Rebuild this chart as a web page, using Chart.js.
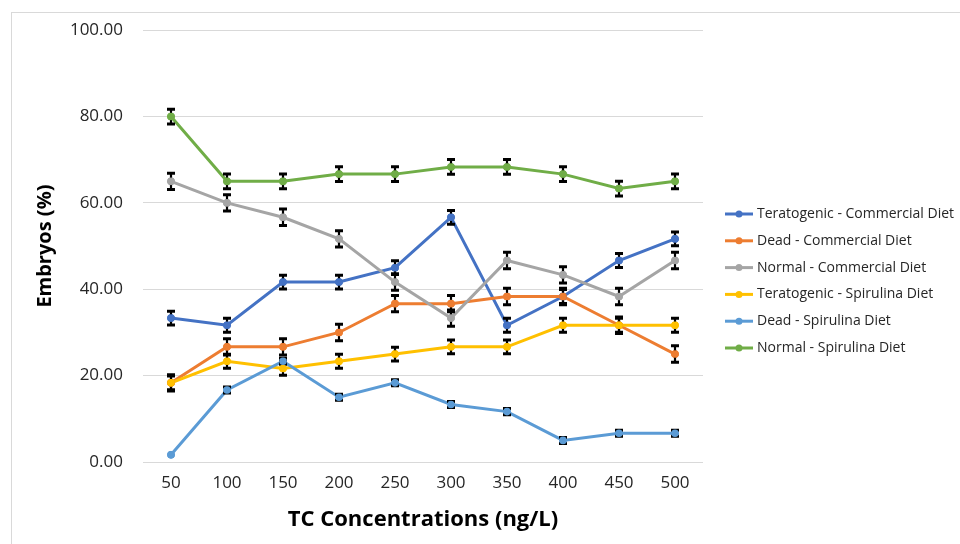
<!DOCTYPE html>
<html><head><meta charset="utf-8">
<script src="https://cdn.jsdelivr.net/npm/chart.js@4"></script>
<style>
html,body{margin:0;padding:0;background:#fff;}
#wrap{position:relative;width:960px;height:544px;overflow:hidden;}
#frame{position:absolute;left:11px;top:12px;width:960px;height:540px;border-left:1px solid #d9d9d9;border-top:1px solid #d9d9d9;pointer-events:none;}
canvas{position:absolute;left:0;top:0;}
</style></head>
<body><div id="wrap"><div id="frame"></div><canvas id="c" width="960" height="544"></canvas></div>
<script>
const categories = ['50','100','150','200','250','300','350','400','450','500'];
const yTicks = [0,20,40,60,80,100];
const seriesNames = ['Teratogenic - Commercial Diet','Dead - Commercial Diet','Normal - Commercial Diet','Teratogenic - Spirulina Diet','Dead - Spirulina Diet','Normal - Spirulina Diet'];
const teratogenicCommercial = [33.33,31.67,41.67,41.67,45.00,56.67,31.67,38.33,46.67,51.67];
const deadCommercial        = [18.33,26.67,26.67,30.00,36.67,36.67,38.33,38.33,31.67,25.00];
const normalCommercial      = [65.00,60.00,56.67,51.67,41.67,33.33,46.67,43.33,38.33,46.67];
const teratogenicSpirulina  = [18.33,23.33,21.67,23.33,25.00,26.67,26.67,31.67,31.67,31.67];
const deadSpirulina         = [1.67,16.67,23.33,15.00,18.33,13.33,11.67,5.00,6.67,6.67];
const normalSpirulina       = [80.00,65.00,65.00,66.67,66.67,68.33,68.33,66.67,63.33,65.00];
const errTeratogenicCommercial = [1.6,1.6,1.6,1.6,1.6,1.6,1.6,1.6,1.6,1.6];
const errDeadCommercial        = [1.9,1.9,1.9,1.9,1.9,1.9,1.9,1.9,1.9,1.9];
const errNormalCommercial      = [1.9,1.9,1.9,1.9,1.9,1.9,1.9,1.9,1.9,1.9];
const errTeratogenicSpirulina  = [1.6,1.6,1.6,1.6,1.6,1.6,1.6,1.6,1.6,1.6];
const errDeadSpirulina         = [0,0.7,0.7,0.7,0.7,0.7,0.7,0.7,0.7,0.7];
const errNormalSpirulina       = [1.7,1.7,1.7,1.7,1.7,1.7,1.7,1.7,1.7,1.7];
const colors = ['#4472C4','#ED7D31','#A5A5A5','#FFC000','#5B9BD5','#70AD47'];

const values = [teratogenicCommercial,deadCommercial,normalCommercial,teratogenicSpirulina,deadSpirulina,normalSpirulina];
const errors = [errTeratogenicCommercial,errDeadCommercial,errNormalCommercial,errTeratogenicSpirulina,errDeadSpirulina,errNormalSpirulina];

const datasets = values.map((v,i)=>({
  label: seriesNames[i], data: v, errors: errors[i],
  borderColor: colors[i], backgroundColor: colors[i],
  pointBackgroundColor: colors[i], pointBorderColor: colors[i],
  borderWidth: 3, pointRadius: 3.5, pointBorderWidth: 1, tension: 0, order: -i
}));

const errorBars = {
  id:'errorBars',
  afterDatasetsDraw(chart){
    const ctx = chart.ctx, y = chart.scales.y;
    ctx.save();
    ctx.strokeStyle = '#000';
    chart.data.datasets.forEach((ds,di)=>{
      const meta = chart.getDatasetMeta(di);
      meta.data.forEach((pt,j)=>{
        const e = ds.errors[j]; if(!e) return;
        const yt = y.getPixelForValue(ds.data[j]+e), yb = y.getPixelForValue(ds.data[j]-e);
        const x = pt.x;
        ctx.lineWidth = 2.2;
        ctx.beginPath(); ctx.moveTo(x,yt); ctx.lineTo(x,yb); ctx.stroke();
        ctx.lineWidth = 3;
        ctx.beginPath();
        ctx.moveTo(x-4,yt); ctx.lineTo(x+4,yt);
        ctx.moveTo(x-4,yb); ctx.lineTo(x+4,yb);
        ctx.stroke();
      });
    });
    chart.data.datasets.forEach((ds,di)=>{
      const meta = chart.getDatasetMeta(di);
      meta.data.forEach(pt=>{
        ctx.beginPath(); ctx.fillStyle = ds.borderColor;
        ctx.arc(pt.x,pt.y,3.8,0,Math.PI*2); ctx.fill();
      });
    });
    ctx.restore();
  }
};

const customLegend = {
  id:'customLegend',
  afterDraw(chart){
    const ctx = chart.ctx; const a = chart.chartArea;
    const x0 = a.right + 22, y0 = 214, step = 26.8;
    ctx.save();
    ctx.font = '14px "Open Sans"'; ctx.textBaseline = 'middle';
    chart.data.datasets.forEach((ds,i)=>{
      const yy = y0 + i*step;
      ctx.strokeStyle = ds.borderColor; ctx.lineWidth = 3;
      ctx.beginPath(); ctx.moveTo(x0,yy); ctx.lineTo(x0+28,yy); ctx.stroke();
      ctx.fillStyle = ds.borderColor; ctx.beginPath(); ctx.arc(x0+14,yy,3.5,0,Math.PI*2); ctx.fill();
      ctx.fillStyle = '#262626'; ctx.fillText(ds.label, x0+32, yy);
    });
    ctx.restore();
  }
};

new Chart(document.getElementById('c'),{
  type:'line',
  data:{labels:categories, datasets},
  plugins:[errorBars,customLegend],
  options:{
    responsive:false, animation:false,
    layout:{padding:{top:30,right:257,bottom:0,left:0}},
    plugins:{legend:{display:false},tooltip:{enabled:false}},
    scales:{
      x:{
        offset:true,
        grid:{display:false,drawTicks:false},
        border:{display:false},
        ticks:{color:'#262626',font:{family:'"Open Sans"',size:17},padding:11,maxRotation:0},
        title:{display:true,text:'TC Concentrations (ng/L)',color:'#000',font:{family:'"Open Sans"',size:22,weight:'bold'},padding:{top:0,bottom:11}},
        afterFit(s){s.height = 82;}
      },
      y:{
        min:0,max:100,
        afterBuildTicks(s){s.ticks = yTicks.map(v=>({value:v}));},
        grid:{color:'#d9d9d9',lineWidth:1,drawTicks:false},
        border:{display:false},
        ticks:{color:'#262626',font:{family:'"Open Sans"',size:17},padding:20,callback:v=>Number(v).toFixed(2)},
        title:{display:true,text:'Embryos (%)',color:'#000',font:{family:'"Open Sans"',size:20,weight:'bold'},padding:{top:33,bottom:0}},
        afterFit(s){s.width = 143;}
      }
    }
  }
});
</script></body></html>
